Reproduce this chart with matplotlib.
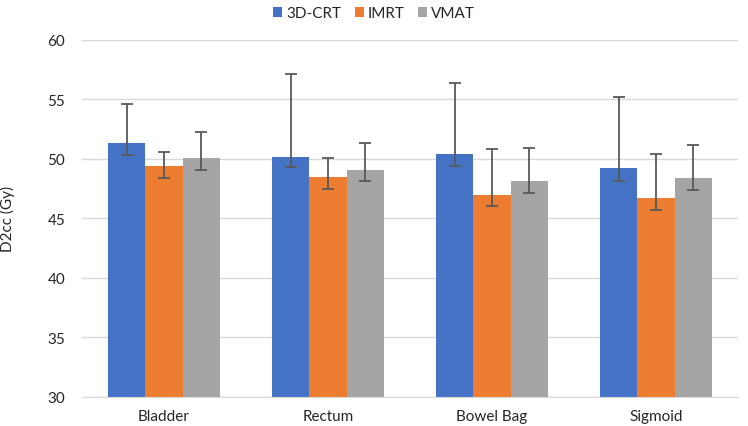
import matplotlib
matplotlib.use("Agg")
import matplotlib.pyplot as plt
import numpy as np

categories = ["Bladder", "Rectum", "Bowel Bag", "Sigmoid"]
series_names = ["3D-CRT", "IMRT", "VMAT"]
crt = [51.3, 50.2, 50.4, 49.2]
imrt = [49.4, 48.5, 47.0, 46.7]
vmat = [50.1, 49.1, 48.1, 48.4]
crt_upper = [54.6, 57.1, 56.4, 55.2]
imrt_upper = [50.6, 50.1, 50.8, 50.45]
vmat_upper = [52.3, 51.35, 50.9, 51.2]
crt_lower = [50.3, 49.3, 49.4, 48.15]
imrt_lower = [48.4, 47.5, 46.05, 45.7]
vmat_lower = [49.1, 48.15, 47.1, 47.4]
colors = ["#4472C4", "#ED7D31", "#A5A5A5"]

plt.rcParams['font.family'] = ['Lato', 'DejaVu Sans']

fig = plt.figure(figsize=(7.48, 4.27), dpi=100)
ax = fig.add_axes([0.1096, 0.0686, 0.877, 0.8354])

x = np.arange(len(categories))
w = 0.226
vals = [crt, imrt, vmat]
ups = [crt_upper, imrt_upper, vmat_upper]
lows = [crt_lower, imrt_lower, vmat_lower]
for i, (v, u, l) in enumerate(zip(vals, ups, lows)):
    v = np.array(v); u = np.array(u); l = np.array(l)
    pos = x + (i - 1) * w
    ax.bar(pos, v - 30, bottom=30, width=w, color=colors[i], label=series_names[i], zorder=2)
    ax.errorbar(pos, v, yerr=[v - l, u - v], fmt='none', ecolor="#595959",
                elinewidth=1.3, capsize=4, capthick=1.3, zorder=3)

ax.set_ylim(30, 60)
ax.set_xlim(-0.5, 3.5)
ax.set_yticks(range(30, 61, 5))
ax.set_xticks(x)
ax.set_xticklabels(categories)
ax.yaxis.grid(True, color="#D9D9D9", linewidth=1.0, zorder=0)
ax.set_axisbelow(True)
for s in ["top", "right", "left"]:
    ax.spines[s].set_visible(False)
ax.spines["bottom"].set_color("#D9D9D9")
ax.tick_params(axis='both', length=0, labelsize=11, colors="#262626")
ax.tick_params(axis='x', pad=9)
ax.tick_params(axis='y', pad=12)
ax.set_ylabel("D2cc (Gy)", fontsize=11, color="#262626")
ax.yaxis.set_label_coords(-0.102, 0.5)

fig.legend(loc="upper center", bbox_to_anchor=(0.5, 1.015), ncol=3, frameon=False,
           fontsize=11, handlelength=0.6, handleheight=0.6, handletextpad=0.25,
           columnspacing=0.9, labelcolor="#262626")

fig.savefig("out.png", dpi=100)
